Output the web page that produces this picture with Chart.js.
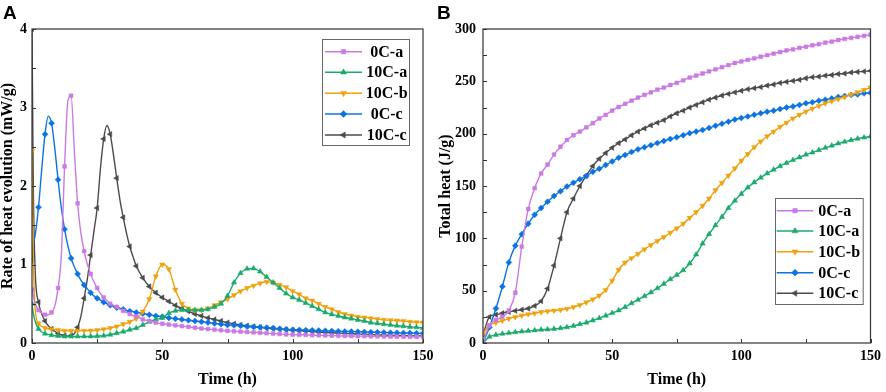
<!DOCTYPE html>
<html><head><meta charset="utf-8">
<script src="https://cdn.jsdelivr.net/npm/chart.js@4.4.1/dist/chart.umd.min.js"></script>
<style>
html,body{margin:0;padding:0;background:#fff;}
#wrap{position:relative;width:886px;height:392px;overflow:hidden;background:#fff;}
canvas{position:absolute;top:0;}
.panel{position:absolute;font-family:'Liberation Sans',Arial,sans-serif;font-weight:bold;font-size:19px;line-height:19px;color:#000;}
</style></head><body>
<div id="wrap">
<canvas id="cA" width="440" height="392" style="left:0px"></canvas>
<canvas id="cB" width="448" height="392" style="left:438px"></canvas>
<div class="panel" style="left:3px;top:2.5px">A</div>
<div class="panel" style="left:437px;top:2.5px">B</div>
</div>
<script>
// ---------- DATA ----------
const seriesLabels = ['0C-a', '10C-a', '10C-b', '0C-c', '10C-c'];

// Panel A: time (h)
const timeA = [0, 0.5, 1.25, 2.5, 3.75, 5, 6.25, 7.5, 8.75, 10,
  11.25, 12.5, 13.75, 15, 16.25, 17.5, 18.75, 20, 21.25, 22.5,
  23.75, 25, 26.25, 27.5, 28.75, 30, 31.25, 32.5, 33.75, 35,
  36.25, 37.5, 38.75, 40,
  42.5, 45, 47.5, 50, 52.5, 55, 57.5, 60, 62.5, 65,
  67.5, 70, 72.5, 75, 77.5, 80, 82.5, 85, 87.5, 90,
  92.5, 95, 97.5, 100, 102.5, 105, 107.5, 110, 112.5, 115,
  117.5, 120, 122.5, 125, 127.5, 130, 132.5, 135, 137.5, 140,
  142.5, 145, 147.5, 150];

// Panel A: rate of heat evolution (mW/g)
const rate0Ca = [0.68, 0.60, 0.50, 0.42, 0.38, 0.36, 0.36, 0.39, 0.47, 0.70,
  1.12, 2.25, 3.08, 3.15, 2.45, 1.78, 1.40, 1.17, 1.00, 0.88,
  0.78, 0.70, 0.63, 0.58, 0.54, 0.50, 0.48, 0.46, 0.43, 0.41,
  0.39, 0.37, 0.35, 0.34,
  0.30, 0.28, 0.26, 0.245, 0.235, 0.225, 0.215, 0.205, 0.195, 0.185,
  0.178, 0.17, 0.163, 0.155, 0.15, 0.145, 0.14, 0.135, 0.13, 0.125,
  0.12, 0.115, 0.11, 0.107, 0.105, 0.103, 0.10, 0.098, 0.096, 0.094,
  0.092, 0.09, 0.089, 0.088, 0.087, 0.086, 0.085, 0.084, 0.083, 0.082,
  0.081, 0.08, 0.08, 0.079];
const rate10Ca = [0.50, 0.38, 0.27, 0.18, 0.14, 0.12, 0.11, 0.10, 0.093, 0.09,
  0.087, 0.085, 0.085, 0.085, 0.085, 0.085, 0.085, 0.085, 0.085, 0.085,
  0.086, 0.088, 0.09, 0.093, 0.098, 0.105, 0.115, 0.125, 0.135, 0.145,
  0.155, 0.17, 0.18, 0.19,
  0.23, 0.27, 0.30, 0.32, 0.38, 0.41, 0.42, 0.42, 0.42, 0.42,
  0.43, 0.46, 0.50, 0.60, 0.77, 0.89, 0.945, 0.95, 0.91, 0.84,
  0.77, 0.70, 0.63, 0.58, 0.55, 0.51, 0.47, 0.43, 0.39, 0.365,
  0.345, 0.325, 0.31, 0.295, 0.28, 0.26, 0.25, 0.24, 0.23, 0.22,
  0.215, 0.205, 0.20, 0.19];
const rate10Cb = [2.45, 1.10, 0.42, 0.25, 0.21, 0.19, 0.18, 0.175, 0.17, 0.165,
  0.16, 0.157, 0.155, 0.155, 0.155, 0.155, 0.155, 0.156, 0.157, 0.158,
  0.16, 0.165, 0.17, 0.175, 0.18, 0.19, 0.20, 0.21, 0.225, 0.24,
  0.25, 0.27, 0.29, 0.31,
  0.40, 0.56, 0.85, 1.0, 0.94, 0.68, 0.50, 0.44, 0.42, 0.42,
  0.44, 0.48, 0.52, 0.56, 0.61, 0.66, 0.70, 0.73, 0.76, 0.78,
  0.77, 0.74, 0.71, 0.66, 0.62, 0.57, 0.54, 0.50, 0.46, 0.43,
  0.395, 0.37, 0.35, 0.335, 0.325, 0.315, 0.305, 0.295, 0.29, 0.285,
  0.28, 0.27, 0.265, 0.26];
const rate0Cc = [1.05, 1.25, 1.38, 1.73, 2.22, 2.66, 2.89, 2.80, 2.48, 2.08,
  1.72, 1.45, 1.24, 1.08, 0.97, 0.88, 0.80, 0.74, 0.69, 0.64,
  0.60, 0.57, 0.545, 0.52, 0.50, 0.48, 0.465, 0.45, 0.44, 0.43,
  0.415, 0.405, 0.40, 0.39,
  0.375, 0.36, 0.345, 0.335, 0.32, 0.31, 0.30, 0.29, 0.28, 0.27,
  0.26, 0.25, 0.24, 0.23, 0.225, 0.22, 0.21, 0.205, 0.20, 0.195,
  0.19, 0.18, 0.175, 0.17, 0.167, 0.164, 0.161, 0.158, 0.155, 0.152,
  0.15, 0.147, 0.145, 0.143, 0.14, 0.138, 0.136, 0.134, 0.132, 0.13,
  0.128, 0.126, 0.124, 0.122];
const rate10Cc = [4.0, 2.0, 0.9, 0.52, 0.37, 0.28, 0.22, 0.18, 0.15, 0.12,
  0.105, 0.095, 0.088, 0.095, 0.12, 0.20, 0.34, 0.57, 0.82, 1.12,
  1.42, 1.72, 2.22, 2.60, 2.77, 2.66, 2.40, 2.10, 1.82, 1.60,
  1.40, 1.23, 1.10, 0.98,
  0.83, 0.72, 0.64, 0.58, 0.53, 0.48, 0.44, 0.405, 0.37, 0.345,
  0.32, 0.30, 0.28, 0.26, 0.245, 0.23, 0.22, 0.21, 0.20, 0.19,
  0.183, 0.176, 0.17, 0.163, 0.157, 0.151, 0.145, 0.14, 0.135, 0.13,
  0.126, 0.122, 0.118, 0.114, 0.11, 0.107, 0.104, 0.101, 0.098, 0.096,
  0.094, 0.092, 0.09, 0.088];

// Panel B: time (h)
const timeB = [0, 2.5, 5, 7.5, 10, 12.5, 15, 17.5, 20, 22.5,
  25, 27.5, 30, 32.5, 35, 37.5, 40, 42.5, 45, 47.5,
  50, 52.5, 55, 57.5, 60, 62.5, 65, 67.5, 70, 72.5,
  75, 77.5, 80, 82.5, 85, 87.5, 90, 92.5, 95, 97.5,
  100, 102.5, 105, 107.5, 110, 112.5, 115, 117.5, 120, 122.5,
  125, 127.5, 130, 132.5, 135, 137.5, 140, 142.5, 145, 147.5,
  150];

// Panel B: total heat (J/g)
const heat0Ca = [0, 17, 22, 25, 31, 48, 92, 128, 148, 162,
  170.5, 180, 187.5, 194, 198.5, 202, 206, 210, 214.5, 218,
  222, 225.5, 228.5, 231.5, 234.5, 237, 239.5, 242, 244, 246.5,
  248.5, 251, 253.5, 255.5, 257.5, 259.5, 261.5, 263.5, 265.5, 267.5,
  269, 270.5, 272, 273.5, 275, 276.5, 278, 279.5, 280.5, 282,
  283, 284.5, 285.5, 287, 288, 289.5, 290.5, 291.5, 292.5, 293.5,
  294.5];
const heat10Ca = [0, 6, 7.8, 8.8, 9.5, 10.3, 11, 11.6, 12.1, 12.7,
  13, 13.5, 14.2, 15, 16.3, 18, 19.5, 21.6, 23.8, 26.1,
  28.6, 31.2, 34.3, 38, 41.3, 44.7, 48.4, 52.3, 56.5, 61,
  65, 69.5, 76, 84.5, 95, 104, 112.5, 120.5, 129, 136,
  142.5, 148.5, 153.5, 158, 162, 165.6, 169, 172, 174.8, 177.3,
  180, 182, 184.3, 186.5, 188.6, 190.6, 192.3, 193.8, 195.2, 196.4,
  197.4];
const heat10Cb = [9, 17, 19.5, 21.3, 23.3, 24.8, 26.2, 27.5, 28.4, 29.5,
  30.3, 31, 31.7, 32.7, 34.3, 36.3, 38.8, 41.7, 45.3, 50.7,
  59.5, 70, 76.8, 81, 85.2, 89.5, 93.5, 97.5, 101.2, 105.3,
  109.5, 114, 119.5, 125, 131, 138, 146, 153, 160, 166.8,
  174, 180.5, 187, 192.5, 197.5, 202, 206.5, 210.5, 214.5, 218,
  221, 224, 226.5, 229, 231, 233, 235, 237.3, 239.5, 241.8,
  244];
const heat0Cc = [0, 15, 33, 54, 77, 93, 104, 114, 122.5, 129,
  135, 140.5, 145, 149.5, 153, 156.5, 159.5, 163.5, 166.5, 170,
  173.5, 177, 179.5, 182.5, 185, 187, 189, 191, 193, 195,
  196.5, 198.5, 200.5, 202, 203.5, 205.5, 207.5, 209.5, 211.5, 213.5,
  215, 216.5, 218, 219.5, 221, 222, 223.5, 225, 226, 227.5,
  229, 230, 231.5, 232.5, 233.5, 235, 236, 237, 237.5, 238.5,
  239];
const heat10Cc = [8, 25, 27, 28.5, 29.8, 30.8, 31.8, 33, 35.5, 40,
  52, 74, 100, 125, 138, 150, 160, 169, 176, 181.5,
  186.5, 191, 194.5, 198.5, 202, 205, 208, 210.5, 213, 216.5,
  219.5, 222, 225, 227.5, 230, 232.5, 234.5, 236.5, 238, 239.5,
  241, 242.5, 243.5, 244.5, 246, 247, 248.5, 249.5, 250.5, 251.5,
  253, 254, 254.5, 255.5, 256, 257, 257.5, 258.5, 259, 259.5,
  260];

// Tick labels
const xTicks = [0, 50, 100, 150];
const yTicksA = [0, 1, 2, 3, 4];
const yTicksB = [0, 50, 100, 150, 200, 250, 300];

// ---------- STYLE ----------
const seriesColors = ['#C97BE3', '#1BAA6E', '#EEA20E', '#0B74E2', '#4B4B4B'];
const markerStyles = ['rect', 'triangle', 'triangle', 'rectRot', 'triangle'];
const markerRotations = [0, 0, 180, 0, 270];
const markerRadii = [2.7, 3.1, 3.1, 3.0, 3.1];
const SERIF = "'Times New Roman','Liberation Serif',serif";

function isMarked(t) { const k = t / 2.5; return Math.abs(k - Math.round(k)) < 1e-6; }

function makeDatasets(time, list) {
  return list.map((vals, i) => ({
    label: seriesLabels[i],
    data: time.map((t, j) => ({ x: t, y: vals[j] })),
    borderColor: seriesColors[i],
    backgroundColor: seriesColors[i],
    borderWidth: 1.4,
    pointStyle: markerStyles[i],
    pointRotation: markerRotations[i],
    pointRadius: ctx => isMarked(time[ctx.dataIndex]) ? markerRadii[i] : 0,
    pointHoverRadius: 0,
    pointBorderWidth: 0.5,
    pointBorderColor: seriesColors[i],
    pointBackgroundColor: seriesColors[i],
    cubicInterpolationMode: 'monotone',
    fill: false
  }));
}

const framePlugin = {
  id: 'frame',
  afterDatasetsDraw(chart, args, o) {
    const ctx = chart.ctx, a = chart.chartArea;
    const xs = chart.scales.x, ys = chart.scales.y;
    ctx.save();
    ctx.strokeStyle = '#333';
    ctx.lineWidth = 1.2;
    ctx.strokeRect(a.left, a.top, a.right - a.left, a.bottom - a.top);
    ctx.beginPath();
    for (let v = xs.min; v <= xs.max + 1e-9; v += o.xStep) {
      const p = Math.round(xs.getPixelForValue(v)) + 0.5;
      ctx.moveTo(p, a.bottom); ctx.lineTo(p, a.bottom - 4);
    }
    for (let v = ys.min; v <= ys.max + 1e-9; v += o.yStep) {
      const p = Math.round(ys.getPixelForValue(v)) + 0.5;
      ctx.moveTo(a.left, p); ctx.lineTo(a.left + 4, p);
    }
    ctx.lineWidth = 1;
    ctx.stroke();
    ctx.restore();
  }
};

const legendPlugin = {
  id: 'boxLegend',
  afterDraw(chart, args, o) {
    const ctx = chart.ctx;
    ctx.save();
    ctx.fillStyle = '#fff';
    ctx.fillRect(o.x0, o.y0, o.x1 - o.x0, o.y1 - o.y0);
    ctx.strokeStyle = '#666';
    ctx.lineWidth = 1;
    ctx.strokeRect(o.x0 + 0.5, o.y0 + 0.5, o.x1 - o.x0, o.y1 - o.y0);
    ctx.font = "bold 16px " + SERIF;
    ctx.textBaseline = 'middle';
    chart.data.datasets.forEach((ds, i) => {
      const y = o.rows[i];
      ctx.strokeStyle = ds.borderColor;
      ctx.lineWidth = 1.6;
      ctx.beginPath(); ctx.moveTo(o.lx0, y); ctx.lineTo(o.lx1, y); ctx.stroke();
      ctx.fillStyle = ds.borderColor;
      ctx.lineWidth = 0.5;
      Chart.helpers.drawPoint(ctx, { pointStyle: ds.pointStyle, radius: markerRadii[i] + 0.4, rotation: ds.pointRotation, borderWidth: 0.5 }, (o.lx0 + o.lx1) / 2, y);
      ctx.fillStyle = '#000';
      ctx.textAlign = o.align;
      ctx.fillText(ds.label, o.tx, y + 1);
    });
    ctx.restore();
  }
};

function tickFont() { return { family: SERIF, weight: 'bold', size: 14, lineHeight: 1.2 }; }
function titleFont() { return { family: SERIF, weight: 'bold', size: 16, lineHeight: 1 }; }

function makeChart(id, time, list, yMax, yTickVals, yTitle, yWidth, rightPad, yPad, xStep, yStep, legend) {
  return new Chart(document.getElementById(id), {
    type: 'line',
    data: { datasets: makeDatasets(time, list) },
    options: {
      responsive: false,
      animation: false,
      devicePixelRatio: 1,
      layout: { padding: { left: 0, top: 29, right: rightPad, bottom: 0 } },
      plugins: {
        legend: { display: false },
        tooltip: { enabled: false },
        frame: { xStep: xStep, yStep: yStep },
        boxLegend: legend
      },
      scales: {
        x: {
          type: 'linear', min: 0, max: 150,
          afterFit: s => { s.height = 49; },
          afterBuildTicks: s => { s.ticks = xTicks.map(v => ({ value: v })); },
          ticks: { padding: 5, color: '#000', font: tickFont(), maxRotation: 0, autoSkip: false },
          grid: { display: false, drawTicks: false, tickLength: 0 },
          border: { display: false },
          title: { display: true, text: 'Time (h)', color: '#000', font: titleFont(), padding: { top: 0, bottom: 4 } }
        },
        y: {
          type: 'linear', min: 0, max: yMax,
          afterFit: s => { s.width = yWidth; },
          afterBuildTicks: s => { s.ticks = yTickVals.map(v => ({ value: v })); },
          ticks: { padding: yPad, color: '#000', font: tickFont(), autoSkip: false },
          grid: { display: false, drawTicks: false, tickLength: 0 },
          border: { display: false },
          title: { display: true, text: yTitle, color: '#000', font: titleFont(), padding: { top: 0, bottom: 0 } }
        }
      }
    },
    plugins: [framePlugin, legendPlugin]
  });
}

makeChart('cA', timeA, [rate0Ca, rate10Ca, rate10Cb, rate0Cc, rate10Cc], 4, yTicksA,
  'Rate of heat evolution (mW/g)', 32, 17, 5, 25, 0.5,
  { x0: 322, y0: 39, x1: 409, y1: 145, rows: [51.7, 72.3, 93.3, 114, 135], lx0: 325, lx1: 362, tx: 386.7, align: 'center' });

makeChart('cB', timeB, [heat0Ca, heat10Ca, heat10Cb, heat0Cc, heat10Cc], 300, yTicksB,
  'Total heat (J/g)', 45, 12, 7, 25, 25,
  { x0: 337, y0: 198, x1: 424.7, y1: 304, rows: [210.7, 231, 251.7, 272.7, 293.3], lx0: 338.7, lx1: 375.3, tx: 380.3, align: 'left' });
</script>
</body></html>
